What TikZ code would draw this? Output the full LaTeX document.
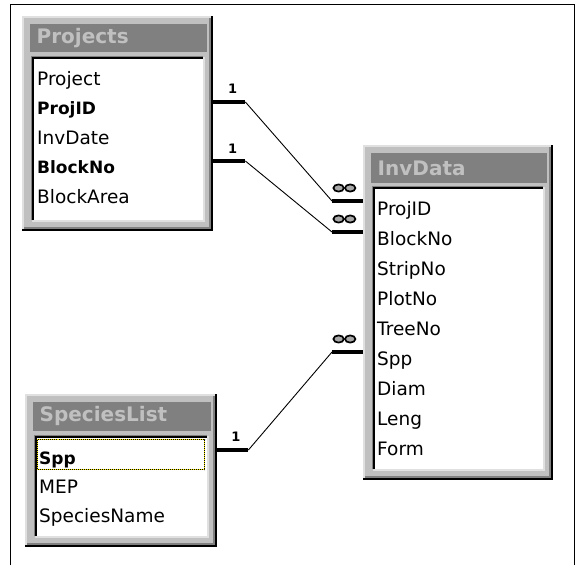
\documentclass[tikz,border=0pt]{standalone}
\usepackage{fontspec}
\setmainfont{DejaVu Sans}
\usetikzlibrary{calc}

\definecolor{face}{HTML}{C0C0C0}
\definecolor{darkedge}{HTML}{808080}
\definecolor{lite}{HTML}{E0E0E0}
\definecolor{captiongray}{HTML}{C0C0C0}
\definecolor{ringgray}{HTML}{A8A8A8}

\tikzset{
  winframe/.style={fill=face, draw=none, inner sep=0pt, anchor=north west},
  titlebar/.style={fill=darkedge, draw=none, inner sep=0pt, anchor=north west},
  tabletitle/.style={text=captiongray, font=\fontsize{20}{22}\selectfont\bfseries, anchor=west, inner sep=0pt},
  fieldlist/.style={fill=white, draw=none, inner sep=0pt, anchor=north west},
  field/.style={font=\fontsize{18.5}{20}\selectfont, anchor=base west, inner sep=0pt},
  keyfield/.style={field, font=\fontsize{17}{20}\selectfont\bfseries},
  keybar/.style={line width=4.5pt, black},
  joinline/.style={line width=0.9pt, black},
  onemark/.style={font=\fontsize{13}{14}\selectfont\bfseries, inner sep=0pt},
  ringmark/.style={draw=black, line width=1.7pt, fill=ringgray},
}

% A table window: name, caption, left, top, right, bottom, caption bottom, list top
\newcommand\dbtable[8]{%
  \pgfmathsetmacro\dbw{#5-#3}%
  \pgfmathsetmacro\dbh{#6-#4}%
  \node[winframe, minimum width=\dbw pt, minimum height=\dbh pt] (#1) at (#3,#4) {};
  % raised outer bevel
  \draw[lite, line width=2pt] ([xshift=1pt,yshift=2pt]#1.south west) -- ([xshift=1pt,yshift=-1pt]#1.north west) -- ([xshift=-2pt,yshift=-1pt]#1.north east);
  \draw[darkedge, line width=2pt] ([xshift=2pt,yshift=3pt]#1.south west) -- ([xshift=-3pt,yshift=3pt]#1.south east) -- ([xshift=-3pt,yshift=-2pt]#1.north east);
  \draw[black, line width=2pt] ([yshift=1pt]#1.south west) -- ([xshift=-1pt,yshift=1pt]#1.south east) -- ([xshift=-1pt]#1.north east);
  % caption bar
  \pgfmathsetmacro\dbtw{(#5-6)-(#3+7.5)}%
  \pgfmathsetmacro\dbth{#7-(#4+7.5)}%
  \node[titlebar, minimum width=\dbtw pt, minimum height=\dbth pt] (#1-title) at (#3+7.5,#4+7.5) {};
  \node[tabletitle] (#1-caption) at ([xshift=7pt]#1-title.west) {#2};
  % sunken field list
  \pgfmathsetmacro\dblw{(#5-10)-(#3+10)}%
  \pgfmathsetmacro\dblh{(#6-11)-#8}%
  \node[fieldlist, minimum width=\dblw pt, minimum height=\dblh pt] (#1-list) at (#3+10,#8) {};
  \draw[lite, line width=1.5pt] ([yshift=-0.75pt]#1-list.south west) -- ([xshift=0.75pt,yshift=-0.75pt]#1-list.south east) -- ([xshift=0.75pt]#1-list.north east);
  \draw[darkedge, line width=1pt] ([xshift=-0.5pt]#1-list.south west) -- ([xshift=-0.5pt,yshift=0.5pt]#1-list.north west) -- ([yshift=0.5pt]#1-list.north east);
  \draw[black, line width=2pt] ([xshift=1pt]#1-list.south west) -- ([xshift=1pt,yshift=-1pt]#1-list.north west) -- ([yshift=-1pt]#1-list.north east);
}

% "many" end of a relationship: two linked rings
\newcommand\manymark[2]{%
  \node[inner sep=0pt, minimum width=24pt, minimum height=9pt] (#1) at (#2) {};
  \draw[ringmark] ([xshift=-5.8pt]#1.center) ellipse[x radius=5.2pt, y radius=3.6pt];
  \draw[ringmark] ([xshift=5.8pt]#1.center) ellipse[x radius=5.2pt, y radius=3.6pt];
}

\begin{document}
\begin{tikzpicture}[x=1pt, y=-1pt]
  \useasboundingbox (0,0) rectangle (577,565);
  \fill[white] (0,0) rectangle (577,565);

  % window border
  \draw[black, line width=1pt] (10,565) -- (10,4.5) -- (574.5,4.5) -- (574.5,565);

  % tables
  \dbtable{projects}{Projects}{22}{16}{213}{231}{52}{57}
  \dbtable{invdata}{InvData}{363}{145}{553}{480}{183}{187}
  \dbtable{species}{SpeciesList}{25}{394}{217}{547}{431}{436}

  % Projects fields
  \node[field]    (p-project)   at (37,85)    {Project};
  \node[keyfield] (p-projid)    at (37,114.5) {ProjID};
  \node[field]    (p-invdate)   at (37,144)   {InvDate};
  \node[keyfield] (p-blockno)   at (37,173.5) {BlockNo};
  \node[field]    (p-blockarea) at (37,203)   {BlockArea};

  % InvData fields
  \node[field] (i-projid)  at (377,215) {ProjID};
  \node[field] (i-blockno) at (377,245) {BlockNo};
  \node[field] (i-stripno) at (377,275) {StripNo};
  \node[field] (i-plotno)  at (377,305) {PlotNo};
  \node[field] (i-treeno)  at (377,335) {TreeNo};
  \node[field] (i-spp)     at (377,365) {Spp};
  \node[field] (i-diam)    at (377,395) {Diam};
  \node[field] (i-leng)    at (377,425) {Leng};
  \node[field] (i-form)    at (377,455) {Form};

  % SpeciesList fields, first one holding the focus
  \draw[yellow, line width=1pt] (37.5,439.5) rectangle (204.5,469.5);
  \draw[black, line width=1pt, dash pattern=on 1pt off 1pt] (37.5,439.5) rectangle (204.5,469.5);
  \node[keyfield] (s-spp)         at (39,464) {Spp};
  \node[field]    (s-mep)         at (39,493) {MEP};
  \node[field]    (s-speciesname) at (39,522) {SpeciesName};

  % relationship end points
  \coordinate (r1a) at ($(projects.east |- p-projid.base)+(0,-12.5)$);
  \coordinate (r1b) at ($(r1a)+(32,0)$);
  \coordinate (r1d) at ($(invdata.west |- i-projid.base)+(0,-14)$);
  \coordinate (r1c) at ($(r1d)+(-31,0)$);

  \coordinate (r2a) at ($(projects.east |- p-blockno.base)+(0,-12.5)$);
  \coordinate (r2b) at ($(r2a)+(32,0)$);
  \coordinate (r2d) at ($(invdata.west |- i-blockno.base)+(0,-13)$);
  \coordinate (r2c) at ($(r2d)+(-31,0)$);

  \coordinate (r3a) at ($(species.east |- s-spp.base)+(0,-14)$);
  \coordinate (r3b) at ($(r3a)+(31,0)$);
  \coordinate (r3d) at ($(invdata.west |- i-spp.base)+(0,-13)$);
  \coordinate (r3c) at ($(r3d)+(-31,0)$);

  % relationships
  \draw[keybar] (r1a) -- (r1b);
  \draw[joinline] (r1b) -- (r1c);
  \draw[keybar] (r1c) -- (r1d);

  \draw[keybar] (r2a) -- (r2b);
  \draw[joinline] (r2b) -- (r2c);
  \draw[keybar] (r2c) -- (r2d);

  \draw[keybar] (r3a) -- (r3b);
  \draw[joinline] (r3b) -- (r3c);
  \draw[keybar] (r3c) -- (r3d);

  % cardinality marks
  \node[onemark] (one1) at ($(r1a)!0.6!(r1b)+(0,-13)$) {1};
  \node[onemark] (one2) at ($(r2a)!0.6!(r2b)+(0,-12)$) {1};
  \node[onemark] (one3) at ($(r3a)!0.6!(r3b)+(0,-13)$) {1};
  \manymark{many1}{$(r1c)!0.4!(r1d)+(0,-13)$}
  \manymark{many2}{$(r2c)!0.4!(r2d)+(0,-13)$}
  \manymark{many3}{$(r3c)!0.4!(r3d)+(0,-13)$}
\end{tikzpicture}
\end{document}
